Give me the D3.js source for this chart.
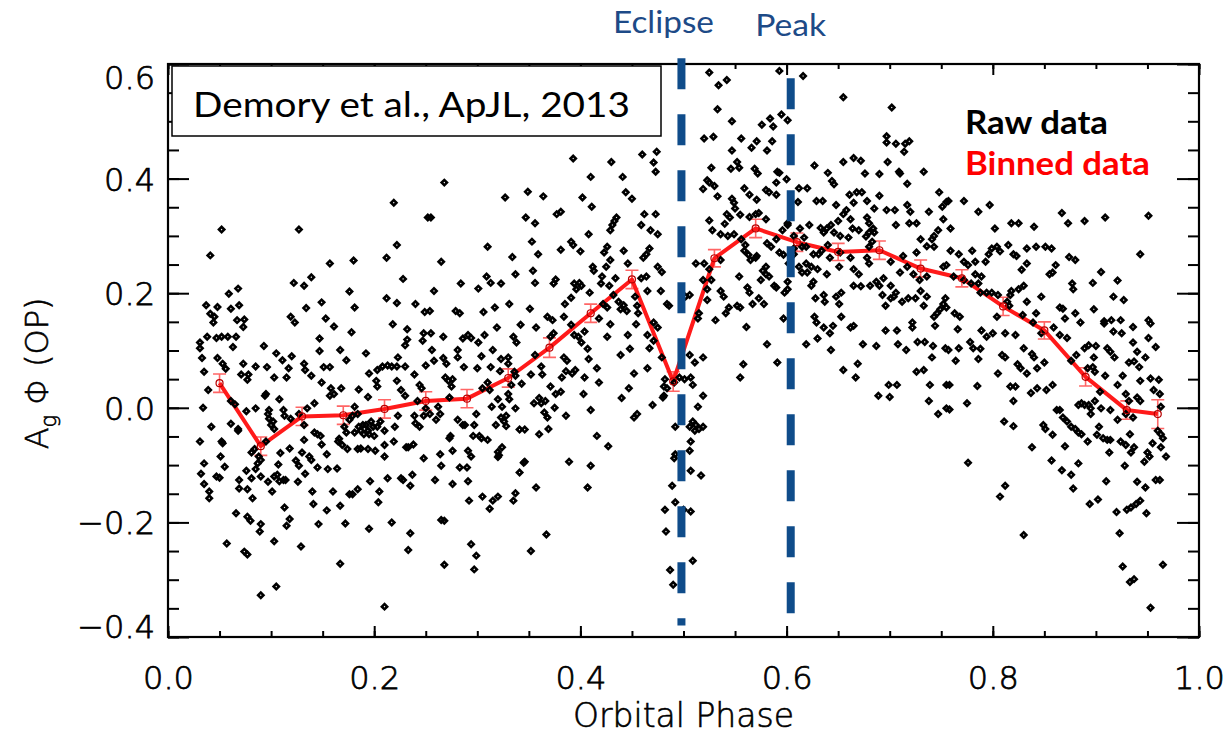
<!DOCTYPE html>
<html><head><meta charset="utf-8">
<script src="https://cdn.jsdelivr.net/npm/d3@7"></script>
<style>html,body{margin:0;padding:0;background:#fff}</style>
</head><body>
<svg id="chart" width="1228" height="738"></svg>
<script>
// Axis ticks
const xTicks = [0, 0.2, 0.4, 0.6, 0.8, 1.0];
const yTicks = [-0.4, -0.2, 0.0, 0.2, 0.4, 0.6];

// Binned phase curve with 1-sigma errors
const binPhase = [0.05,0.09,0.13,0.17,0.21,0.25,0.29,0.33,0.37,0.41,0.45,0.49,0.53,0.57,0.61,0.65,0.69,0.73,0.77,0.81,0.85,0.89,0.93,0.96];
const binAg    = [0.043,-0.067,-0.015,-0.013,-0.002,0.012,0.016,0.052,0.105,0.165,0.224,0.046,0.261,0.313,0.289,0.272,0.275,0.243,0.226,0.177,0.135,0.054,-0.004,-0.011];
const binErr   = [0.016,0.016,0.016,0.016,0.016,0.016,0.016,0.016,0.017,0.016,0.016,0.017,0.015,0.016,0.016,0.015,0.016,0.015,0.015,0.016,0.015,0.016,0.016,0.025];

// Reference phases (secondary eclipse, brightness peak) and the span of each marker line
const eclipsePhase = 0.498, eclipseSpan = [0.61, -0.38];
const peakPhase = 0.604, peakSpan = [0.575, -0.36];

// Raw measurements: [orbital phase, Ag*Phi]
const rawPoints = [
[0.052,0.311],[0.041,0.266],[0.127,0.311],[0.219,0.358],[0.252,0.332],[0.222,0.284],[0.212,0.262],[0.157,0.252],[0.180,0.257],[0.228,0.225],[0.139,0.228],[0.122,0.218],[0.132,0.213],[0.068,0.208],[0.059,0.199],[0.176,0.203],[0.212,0.191],[0.222,0.183],[0.240,0.181],[0.249,0.167],[0.037,0.179],[0.048,0.176],[0.061,0.173],[0.069,0.179],[0.041,0.164],[0.045,0.159],[0.044,0.149],[0.067,0.153],[0.074,0.154],[0.073,0.141],[0.134,0.174],[0.149,0.184],[0.181,0.175],[0.119,0.159],[0.123,0.149],[0.153,0.156],[0.161,0.142],[0.218,0.146],[0.232,0.137],[0.178,0.132],[0.147,0.121],[0.038,0.124],[0.047,0.122],[0.052,0.124],[0.058,0.124],[0.066,0.124],[0.063,0.106],[0.031,0.114],[0.031,0.104],[0.033,0.087],[0.048,0.087],[0.053,0.077],[0.056,0.068],[0.035,0.063],[0.039,0.031],[0.034,0.000],[0.042,-0.033],[0.031,-0.059],[0.052,-0.059],[0.053,-0.062],[0.051,-0.085],[0.035,-0.097],[0.055,-0.103],[0.032,-0.115],[0.035,-0.133],[0.040,-0.146],[0.040,-0.158],[0.047,-0.120],[0.050,-0.122],[0.057,-0.237],[0.093,0.108],[0.073,0.077],[0.071,0.058],[0.078,0.058],[0.077,0.049],[0.076,-0.006],[0.085,-0.001],[0.096,0.071],[0.085,0.072],[0.105,0.095],[0.111,0.083],[0.120,0.090],[0.103,0.053],[0.117,0.069],[0.115,0.053],[0.132,0.077],[0.133,0.066],[0.139,0.056],[0.147,0.099],[0.151,0.071],[0.157,0.071],[0.149,0.044],[0.158,0.034],[0.157,0.021],[0.161,0.024],[0.168,0.034],[0.167,0.101],[0.173,0.083],[0.192,0.095],[0.195,0.060],[0.185,0.032],[0.194,0.019],[0.202,0.047],[0.203,0.037],[0.203,0.066],[0.208,0.072],[0.213,0.074],[0.217,0.072],[0.222,0.072],[0.223,0.088],[0.230,0.072],[0.222,0.047],[0.226,0.031],[0.230,0.021],[0.232,0.119],[0.230,0.109],[0.239,0.058],[0.247,0.117],[0.248,0.130],[0.250,0.074],[0.244,0.040],[0.246,0.034],[0.242,0.012],[0.250,-0.001],[0.248,-0.014],[0.061,0.012],[0.065,0.006],[0.061,-0.028],[0.068,-0.037],[0.068,-0.040],[0.095,0.024],[0.094,0.021],[0.097,-0.011],[0.098,-0.019],[0.100,-0.030],[0.103,-0.037],[0.108,0.015],[0.112,-0.004],[0.113,-0.014],[0.119,-0.019],[0.132,-0.030],[0.135,-0.001],[0.142,0.008],[0.127,-0.011],[0.142,-0.043],[0.145,-0.046],[0.148,-0.049],[0.149,-0.064],[0.132,-0.056],[0.130,-0.078],[0.118,-0.071],[0.109,-0.079],[0.107,-0.099],[0.112,-0.126],[0.113,-0.174],[0.118,-0.194],[0.115,-0.206],[0.103,-0.233],[0.105,-0.312],[0.090,-0.327],[0.090,-0.203],[0.089,-0.216],[0.082,-0.158],[0.081,-0.123],[0.076,-0.110],[0.077,-0.142],[0.069,-0.126],[0.069,-0.141],[0.066,-0.184],[0.077,-0.190],[0.080,-0.197],[0.074,-0.251],[0.077,-0.256],[0.084,-0.072],[0.081,-0.078],[0.087,-0.097],[0.090,-0.091],[0.085,-0.107],[0.090,-0.120],[0.088,-0.085],[0.095,-0.059],[0.097,-0.129],[0.101,-0.146],[0.103,-0.120],[0.106,-0.117],[0.108,-0.128],[0.114,-0.126],[0.124,-0.092],[0.127,-0.101],[0.126,-0.129],[0.129,-0.242],[0.133,-0.115],[0.137,-0.085],[0.139,-0.091],[0.140,-0.146],[0.141,-0.168],[0.146,-0.203],[0.145,-0.104],[0.155,-0.107],[0.154,-0.081],[0.154,-0.179],[0.160,-0.146],[0.164,-0.106],[0.167,-0.171],[0.167,-0.272],[0.172,-0.202],[0.165,-0.059],[0.166,-0.054],[0.169,-0.065],[0.174,-0.072],[0.171,-0.033],[0.173,-0.043],[0.176,-0.021],[0.179,-0.014],[0.181,0.002],[0.184,-0.011],[0.185,-0.033],[0.187,-0.040],[0.190,-0.046],[0.192,-0.030],[0.194,-0.040],[0.195,-0.046],[0.197,-0.024],[0.199,-0.033],[0.203,-0.033],[0.206,-0.024],[0.210,-0.040],[0.210,-0.065],[0.184,-0.072],[0.187,-0.071],[0.194,-0.072],[0.201,-0.075],[0.196,-0.128],[0.205,-0.146],[0.204,-0.165],[0.176,-0.151],[0.179,-0.151],[0.184,-0.142],[0.195,-0.211],[0.210,-0.085],[0.213,-0.123],[0.217,-0.200],[0.210,-0.347],[0.219,-0.059],[0.220,-0.033],[0.223,-0.014],[0.226,-0.123],[0.228,-0.126],[0.231,-0.069],[0.233,-0.069],[0.235,-0.136],[0.238,-0.064],[0.237,-0.117],[0.235,-0.219],[0.233,-0.248],[0.239,-0.014],[0.240,-0.027],[0.244,-0.033],[0.248,-0.088],[0.189,-0.030],[0.181,-0.043],[0.200,-0.049],[0.098,-0.004],[0.102,-0.024],
[0.268,0.393],[0.255,0.332],[0.265,0.255],[0.258,0.204],[0.254,0.169],[0.255,0.130],[0.267,0.124],[0.256,0.101],[0.258,0.082],[0.267,0.087],[0.270,0.077],[0.269,0.053],[0.272,0.047],[0.275,0.037],[0.276,0.050],[0.273,0.018],[0.262,0.002],[0.264,-0.011],[0.260,-0.021],[0.254,-0.011],[0.281,-0.021],[0.274,-0.049],[0.273,-0.053],[0.264,-0.081],[0.265,-0.101],[0.276,-0.075],[0.259,-0.126],[0.276,-0.133],[0.265,-0.196],[0.268,-0.197],[0.268,-0.274],[0.281,0.101],[0.279,0.169],[0.283,0.165],[0.284,0.217],[0.286,0.121],[0.287,0.071],[0.281,0.088],[0.286,-0.030],[0.288,-0.030],[0.283,-0.104],[0.290,-0.104],[0.291,-0.075],[0.294,-0.085],[0.291,-0.128],[0.292,-0.162],[0.294,-0.238],[0.299,-0.258],[0.297,-0.282],[0.291,0.127],[0.294,0.122],[0.301,0.114],[0.300,0.069],[0.304,0.090],[0.307,0.127],[0.306,0.167],[0.310,0.281],[0.309,0.229],[0.313,0.218],[0.323,0.217],[0.301,0.208],[0.317,0.175],[0.319,0.140],[0.315,0.101],[0.313,0.071],[0.322,0.064],[0.323,0.085],[0.310,0.044],[0.305,0.034],[0.312,0.031],[0.299,-0.011],[0.297,-0.030],[0.296,-0.049],[0.302,-0.049],[0.304,-0.053],[0.310,-0.056],[0.314,0.002],[0.320,0.015],[0.324,0.002],[0.323,-0.017],[0.326,-0.024],[0.318,-0.030],[0.320,-0.077],[0.321,-0.083],[0.320,-0.086],[0.324,-0.069],[0.320,-0.155],[0.315,-0.162],[0.312,-0.176],[0.305,-0.155],[0.327,0.367],[0.334,0.263],[0.331,0.181],[0.335,0.124],[0.338,0.114],[0.330,0.088],[0.330,0.077],[0.336,0.063],[0.337,0.056],[0.343,0.042],[0.333,0.040],[0.330,0.024],[0.331,0.015],[0.328,-0.014],[0.328,-0.032],[0.337,-0.001],[0.341,-0.038],[0.346,-0.038],[0.337,-0.149],[0.335,-0.162],[0.341,-0.113],[0.345,-0.096],[0.346,-0.094],[0.337,0.233],[0.349,0.377],[0.347,0.332],[0.356,0.322],[0.353,0.290],[0.359,0.268],[0.354,0.239],[0.356,0.218],[0.351,0.173],[0.342,0.145],[0.357,0.140],[0.356,0.092],[0.352,0.058],[0.362,0.072],[0.363,0.058],[0.360,0.017],[0.355,0.008],[0.362,0.008],[0.366,0.012],[0.365,-0.008],[0.364,0.369],[0.357,-0.139],[0.352,-0.250],[0.367,-0.221],[0.360,-0.046],[0.369,-0.037],[0.368,-0.017],[0.368,0.159],[0.374,0.217],[0.376,0.224],[0.377,0.338],[0.381,0.342],[0.381,0.276],[0.373,0.153],[0.374,0.130],[0.371,0.124],[0.371,0.037],[0.375,0.000],[0.376,0.024],[0.381,0.028],[0.382,0.053],[0.384,0.159],[0.384,0.088],[0.387,0.082],[0.386,0.064],[0.386,-0.014],[0.389,-0.094],[0.385,0.181],[0.391,0.290],[0.393,0.435],[0.393,0.284],[0.400,0.273],[0.391,0.192],[0.394,0.217],[0.396,0.207],[0.399,0.218],[0.401,0.213],[0.391,0.145],[0.394,0.127],[0.398,0.124],[0.401,0.114],[0.404,0.133],[0.395,0.066],[0.392,0.060],[0.404,0.053],[0.403,0.024],[0.408,0.085],[0.416,0.069],[0.407,0.103],[0.402,0.367],[0.410,0.403],[0.411,0.351],[0.408,0.303],[0.412,0.246],[0.413,0.239],[0.409,0.201],[0.410,-0.004],[0.416,-0.049],[0.427,-0.067],[0.410,-0.101],[0.407,-0.139],[0.418,0.044],[0.418,0.156],[0.420,0.217],[0.421,0.229],[0.423,0.271],[0.426,0.281],[0.429,0.310],[0.431,0.319],[0.433,0.326],[0.435,0.332],[0.430,0.429],[0.441,0.403],[0.444,0.376],[0.450,0.365],[0.442,0.274],[0.446,0.252],[0.429,0.258],[0.425,0.246],[0.428,0.213],[0.432,0.197],[0.426,0.175],[0.422,0.181],[0.434,0.226],[0.437,0.185],[0.439,0.172],[0.442,0.179],[0.445,0.169],[0.429,0.146],[0.426,0.124],[0.439,0.092],[0.446,0.127],[0.448,0.103],[0.452,0.060],[0.447,0.034],[0.440,0.017],[0.452,-0.017],[0.455,-0.011],[0.453,0.194],[0.455,0.178],[0.456,0.165],[0.454,0.146],[0.459,0.226],[0.464,0.229],[0.461,0.262],[0.464,0.268],[0.467,0.278],[0.459,0.319],[0.462,0.338],[0.468,0.310],[0.473,0.338],[0.475,0.303],[0.460,0.442],[0.471,0.428],[0.474,0.447],[0.473,0.412],[0.465,0.204],[0.475,0.246],[0.479,0.237],[0.478,0.204],[0.484,0.181],[0.486,0.178],[0.465,0.127],[0.467,0.104],[0.471,0.149],[0.475,0.140],[0.479,0.088],[0.471,0.117],[0.465,0.069],[0.470,0.005],[0.482,0.050],[0.481,0.037],[0.481,0.021],[0.484,0.034],[0.480,0.018],[0.491,0.044],[0.496,0.053],[0.501,0.050],[0.492,-0.033],[0.491,-0.088],[0.489,-0.136],[0.492,-0.081],[0.482,-0.178],[0.483,-0.216],[0.487,-0.283],[0.490,-0.309],[0.492,-0.165],[0.500,-0.178],[0.502,0.194],
[0.525,0.585],[0.534,0.563],[0.542,0.572],[0.593,0.588],[0.616,0.579],[0.655,0.542],[0.702,0.524],[0.533,0.521],[0.547,0.500],[0.576,0.494],[0.584,0.505],[0.587,0.491],[0.595,0.512],[0.601,0.502],[0.520,0.470],[0.529,0.473],[0.556,0.470],[0.571,0.465],[0.566,0.454],[0.586,0.465],[0.581,0.449],[0.547,0.449],[0.552,0.429],[0.546,0.417],[0.554,0.419],[0.527,0.419],[0.569,0.417],[0.572,0.409],[0.591,0.412],[0.593,0.410],[0.600,0.399],[0.523,0.397],[0.525,0.393],[0.519,0.382],[0.530,0.387],[0.559,0.383],[0.533,0.369],[0.564,0.372],[0.571,0.363],[0.580,0.380],[0.583,0.376],[0.590,0.372],[0.547,0.365],[0.549,0.358],[0.550,0.348],[0.542,0.338],[0.545,0.332],[0.555,0.337],[0.564,0.333],[0.570,0.338],[0.573,0.340],[0.580,0.329],[0.525,0.327],[0.528,0.310],[0.536,0.303],[0.543,0.300],[0.549,0.303],[0.540,0.321],[0.556,0.294],[0.560,0.284],[0.559,0.274],[0.563,0.267],[0.565,0.258],[0.571,0.265],[0.581,0.287],[0.585,0.281],[0.590,0.294],[0.593,0.271],[0.597,0.267],[0.601,0.319],[0.596,0.310],[0.607,0.300],[0.612,0.383],[0.620,0.383],[0.611,0.359],[0.622,0.319],[0.613,0.313],[0.617,0.297],[0.615,0.281],[0.619,0.281],[0.627,0.423],[0.640,0.410],[0.644,0.396],[0.646,0.390],[0.655,0.429],[0.665,0.436],[0.672,0.431],[0.676,0.409],[0.690,0.408],[0.698,0.429],[0.709,0.412],[0.710,0.409],[0.733,0.412],[0.697,0.474],[0.697,0.463],[0.706,0.461],[0.715,0.461],[0.719,0.465],[0.714,0.447],[0.717,0.391],[0.748,0.376],[0.755,0.359],[0.629,0.361],[0.635,0.361],[0.648,0.354],[0.661,0.372],[0.668,0.376],[0.673,0.376],[0.665,0.358],[0.678,0.361],[0.690,0.370],[0.685,0.348],[0.697,0.345],[0.705,0.345],[0.717,0.354],[0.720,0.342],[0.738,0.342],[0.650,0.326],[0.655,0.338],[0.658,0.345],[0.662,0.329],[0.664,0.313],[0.670,0.310],[0.678,0.332],[0.680,0.322],[0.685,0.306],[0.706,0.319],[0.719,0.322],[0.726,0.322],[0.752,0.329],[0.633,0.314],[0.639,0.313],[0.643,0.319],[0.646,0.306],[0.636,0.306],[0.640,0.284],[0.642,0.262],[0.652,0.271],[0.651,0.246],[0.662,0.262],[0.665,0.242],[0.670,0.233],[0.678,0.262],[0.680,0.281],[0.683,0.290],[0.680,0.252],[0.687,0.220],[0.690,0.213],[0.693,0.197],[0.681,0.213],[0.672,0.212],[0.665,0.213],[0.653,0.201],[0.651,0.181],[0.648,0.194],[0.636,0.197],[0.637,0.185],[0.628,0.191],[0.624,0.213],[0.626,0.220],[0.620,0.236],[0.624,0.246],[0.619,0.252],[0.615,0.236],[0.630,0.242],[0.631,0.268],[0.634,0.274],[0.607,0.268],[0.602,0.252],[0.601,0.220],[0.598,0.201],[0.601,0.207],[0.597,0.156],[0.591,0.079],[0.581,0.111],[0.590,0.210],[0.588,0.213],[0.580,0.246],[0.577,0.239],[0.583,0.229],[0.580,0.233],[0.570,0.262],[0.575,0.223],[0.562,0.210],[0.564,0.201],[0.567,0.181],[0.573,0.191],[0.578,0.181],[0.554,0.229],[0.552,0.178],[0.555,0.175],[0.561,0.141],[0.558,0.076],[0.555,0.053],[0.544,0.175],[0.541,0.165],[0.536,0.204],[0.539,0.194],[0.531,0.153],[0.527,0.223],[0.525,0.242],[0.536,0.258],[0.519,0.223],[0.523,0.188],[0.512,0.252],[0.520,0.252],[0.515,0.165],[0.514,0.156],[0.506,0.197],[0.506,0.092],[0.511,0.079],[0.519,0.088],[0.507,0.053],[0.509,0.040],[0.519,0.021],[0.514,0.002],[0.509,-0.024],[0.506,-0.033],[0.512,-0.030],[0.515,-0.037],[0.519,-0.033],[0.511,-0.040],[0.507,-0.059],[0.506,-0.075],[0.507,-0.110],[0.517,-0.118],[0.507,-0.181],[0.509,-0.267],[0.590,0.393],[0.601,0.322],[0.607,0.278],[0.612,0.246],[0.639,0.233],[0.653,0.159],[0.662,0.140],[0.665,0.143],[0.645,0.143],[0.642,0.130],[0.636,0.140],[0.627,0.159],[0.629,0.149],[0.630,0.121],[0.619,0.111],[0.643,0.101],[0.655,0.066],[0.669,0.077],[0.667,0.053],[0.674,0.111],[0.687,0.108],[0.696,0.135],[0.707,0.135],[0.708,0.111],[0.716,0.101],[0.722,0.149],[0.722,0.140],[0.727,0.115],[0.734,0.115],[0.742,0.108],[0.741,0.088],[0.754,0.104],[0.726,0.063],[0.733,0.066],[0.739,0.040],[0.755,0.040],[0.738,0.012],[0.747,-0.011],[0.755,-0.001],[0.689,0.021],[0.699,0.040],[0.707,0.040],[0.700,0.019],[0.696,0.178],[0.701,0.191],[0.704,0.194],[0.706,0.201],[0.712,0.185],[0.718,0.191],[0.725,0.191],[0.730,0.204],[0.733,0.178],[0.736,0.194],[0.736,0.229],[0.729,0.223],[0.726,0.271],[0.723,0.233],[0.717,0.246],[0.710,0.236],[0.713,0.265],[0.701,0.255],[0.694,0.226],[0.701,0.213],[0.743,0.159],[0.746,0.165],[0.749,0.172],[0.752,0.181],[0.754,0.191],[0.744,0.143],[0.752,0.246],[0.743,0.300],[0.741,0.294],[0.736,0.282],[0.743,0.281],[0.730,0.294],[0.751,0.351],[0.747,0.310],[0.677,0.299],[0.680,0.306],[0.684,0.313],[0.652,0.300],[0.660,0.297],[0.626,0.268],[0.523,0.207],
[0.757,0.361],[0.772,0.361],[0.786,0.342],[0.797,0.354],[0.802,0.313],[0.818,0.322],[0.825,0.322],[0.840,0.316],[0.867,0.340],[0.873,0.322],[0.889,0.326],[0.909,0.332],[0.951,0.335],[0.943,0.268],[0.759,0.313],[0.759,0.274],[0.767,0.268],[0.772,0.255],[0.776,0.249],[0.780,0.274],[0.783,0.255],[0.755,0.249],[0.762,0.229],[0.772,0.223],[0.779,0.217],[0.786,0.217],[0.783,0.233],[0.789,0.229],[0.793,0.255],[0.796,0.268],[0.799,0.278],[0.804,0.281],[0.807,0.273],[0.815,0.284],[0.820,0.268],[0.823,0.265],[0.833,0.278],[0.842,0.281],[0.851,0.281],[0.857,0.278],[0.861,0.249],[0.855,0.233],[0.858,0.236],[0.833,0.252],[0.828,0.241],[0.830,0.213],[0.874,0.263],[0.880,0.258],[0.877,0.217],[0.878,0.207],[0.905,0.237],[0.897,0.218],[0.921,0.222],[0.917,0.194],[0.927,0.188],[0.788,0.201],[0.794,0.201],[0.799,0.201],[0.805,0.197],[0.817,0.197],[0.818,0.204],[0.825,0.207],[0.814,0.185],[0.816,0.178],[0.804,0.159],[0.812,0.130],[0.822,0.127],[0.833,0.185],[0.842,0.165],[0.829,0.162],[0.847,0.194],[0.839,0.149],[0.847,0.130],[0.859,0.140],[0.865,0.175],[0.868,0.173],[0.870,0.156],[0.865,0.127],[0.872,0.122],[0.880,0.165],[0.885,0.149],[0.898,0.172],[0.908,0.151],[0.908,0.147],[0.915,0.153],[0.924,0.153],[0.917,0.133],[0.925,0.130],[0.936,0.141],[0.951,0.153],[0.953,0.147],[0.951,0.122],[0.958,0.106],[0.936,0.114],[0.940,0.098],[0.937,0.081],[0.932,0.079],[0.942,0.071],[0.948,0.088],[0.943,0.047],[0.953,0.051],[0.961,0.049],[0.956,0.031],[0.962,0.024],[0.963,0.002],[0.763,0.165],[0.768,0.159],[0.766,0.137],[0.755,0.175],[0.767,0.104],[0.757,0.101],[0.764,0.082],[0.778,0.115],[0.781,0.104],[0.788,0.103],[0.789,0.135],[0.794,0.124],[0.800,0.130],[0.786,0.085],[0.805,0.060],[0.809,0.092],[0.812,0.088],[0.817,0.037],[0.822,0.037],[0.820,0.012],[0.824,0.076],[0.827,0.069],[0.830,0.104],[0.833,0.060],[0.838,0.094],[0.840,0.088],[0.843,0.069],[0.850,0.079],[0.837,0.026],[0.843,0.034],[0.852,0.031],[0.858,0.040],[0.758,0.040],[0.785,0.038],[0.758,-0.003],[0.775,0.008],[0.876,0.082],[0.881,0.092],[0.889,0.104],[0.893,0.109],[0.898,0.088],[0.900,0.108],[0.892,0.069],[0.897,0.071],[0.899,0.063],[0.909,0.056],[0.911,0.104],[0.914,0.098],[0.918,0.088],[0.926,0.056],[0.921,0.040],[0.929,0.024],[0.932,0.012],[0.940,0.018],[0.943,0.012],[0.904,0.028],[0.899,0.012],[0.883,0.005],[0.886,0.008],[0.889,0.005],[0.893,0.005],[0.895,-0.001],[0.905,-0.001],[0.895,-0.011],[0.914,-0.004],[0.921,-0.021],[0.929,-0.011],[0.936,-0.017],[0.868,-0.017],[0.865,-0.004],[0.862,-0.004],[0.872,-0.024],[0.849,-0.030],[0.851,-0.037],[0.858,-0.047],[0.876,-0.033],[0.880,-0.037],[0.883,-0.043],[0.886,-0.046],[0.892,-0.059],[0.901,-0.047],[0.903,-0.033],[0.907,-0.053],[0.911,-0.056],[0.914,-0.056],[0.913,-0.078],[0.924,-0.059],[0.929,-0.065],[0.937,-0.069],[0.934,-0.078],[0.928,-0.101],[0.933,-0.046],[0.950,-0.078],[0.952,-0.085],[0.947,-0.094],[0.955,-0.062],[0.960,-0.040],[0.963,-0.046],[0.965,-0.053],[0.963,-0.069],[0.968,-0.085],[0.958,-0.126],[0.962,-0.126],[0.940,-0.129],[0.948,-0.139],[0.943,-0.162],[0.939,-0.168],[0.934,-0.174],[0.930,-0.178],[0.949,-0.184],[0.920,-0.182],[0.923,-0.219],[0.926,-0.277],[0.933,-0.304],[0.937,-0.299],[0.953,-0.349],[0.965,-0.274],[0.910,-0.128],[0.902,-0.160],[0.894,-0.168],[0.878,-0.141],[0.876,-0.117],[0.883,-0.097],[0.867,-0.109],[0.857,-0.092],[0.870,-0.067],[0.838,-0.069],[0.830,-0.222],[0.812,-0.136],[0.807,-0.155],[0.811,-0.024],[0.820,-0.032],[0.776,-0.096]
];

const plot = {left: 168, right: 1199, top: 64, bottom: 637};
const x = d3.scaleLinear().domain([0, 1]).range([plot.left, plot.right]);
const y = d3.scaleLinear().domain([-0.4, 0.6]).range([plot.bottom, plot.top]);
const svg = d3.select('#chart');

const tickFont = "'DejaVu Sans', sans-serif";
const noteFont = "Lato, 'Open Sans', sans-serif";
const xMinor = d3.range(0, 1.0001, 0.05);
const yMinor = d3.range(-0.4, 0.6001, 0.05);

// Thin vector-style lettering for axis text
function axisText(sel, size) {
  sel.attr('font-family', tickFont).attr('font-size', size).attr('font-weight', 200)
    .attr('fill', '#000').attr('stroke', '#000').attr('stroke-width', 0.75);
}

// Axes: major + minor ticks on all four sides, pointing inward
function styleAxis(g) {
  g.select('.domain').remove();
  g.selectAll('.tick line').attr('stroke', '#000').attr('stroke-width', 2);
}
const fmt = d3.format('.1f');
const minus = s => s.replace('-', '\u2212');

svg.append('g').attr('transform', `translate(0,${plot.bottom})`)
  .call(d3.axisBottom(x).tickValues(xMinor).tickSize(-6).tickFormat('')).call(styleAxis);
svg.append('g').attr('transform', `translate(0,${plot.bottom})`)
  .call(d3.axisBottom(x).tickValues(xTicks).tickSize(-11).tickPadding(29).tickFormat(fmt))
  .call(styleAxis)
  .call(g => g.selectAll('text').call(axisText, 32));
svg.append('g').attr('transform', `translate(0,${plot.top})`)
  .call(d3.axisTop(x).tickValues(xMinor).tickSize(-5).tickFormat('')).call(styleAxis);
svg.append('g').attr('transform', `translate(0,${plot.top})`)
  .call(d3.axisTop(x).tickValues(xTicks).tickSize(-11).tickFormat('')).call(styleAxis);

svg.append('g').attr('transform', `translate(${plot.left},0)`)
  .call(d3.axisLeft(y).tickValues(yMinor).tickSize(-11).tickFormat('')).call(styleAxis);
svg.append('g').attr('transform', `translate(${plot.left},0)`)
  .call(d3.axisLeft(y).tickValues(yTicks).tickSize(-21).tickPadding(13).tickFormat(d => minus(fmt(d))))
  .call(styleAxis)
  .call(g => g.selectAll('text').call(axisText, 32)
    .attr('dy', d => d >= 0.6 ? '0.75em' : d <= -0.4 ? '0.0em' : '0.36em'));
svg.append('g').attr('transform', `translate(${plot.right},0)`)
  .call(d3.axisRight(y).tickValues(yMinor).tickSize(-11).tickFormat('')).call(styleAxis);
svg.append('g').attr('transform', `translate(${plot.right},0)`)
  .call(d3.axisRight(y).tickValues(yTicks).tickSize(-22).tickFormat('')).call(styleAxis);

// Plot frame
svg.append('rect')
  .attr('x', plot.left).attr('y', plot.top)
  .attr('width', plot.right - plot.left).attr('height', plot.bottom - plot.top)
  .attr('fill', 'none').attr('stroke', '#000').attr('stroke-width', 2.2);

// Axis titles
svg.append('text')
  .attr('x', (plot.left + plot.right) / 2).attr('y', 727)
  .attr('text-anchor', 'middle')
  .call(axisText, 33)
  .attr('stroke-width', 0.6)
  .text('Orbital Phase');
const yl = svg.append('text')
  .attr('transform', `translate(48,${y(0.06)}) rotate(-90)`)
  .attr('text-anchor', 'middle')
  .call(axisText, 32)
  .attr('stroke-width', 0.6);
yl.append('tspan').text('A');
yl.append('tspan').attr('font-size', 21).attr('dy', 8).text('g');
yl.append('tspan').attr('dy', -8).text(' \u03A6 (OP)');

// Binned curve: error bars and connecting line
const bins = binPhase.map((p, i) => ({p, v: binAg[i], e: binErr[i]}));
const errG = svg.append('g').attr('stroke', 'rgba(255,50,50,0.75)').attr('stroke-width', 1.6).attr('fill', 'none');
errG.selectAll('path').data(bins).join('path')
  .attr('d', d => {
    const cx = x(d.p), y0 = y(d.v - d.e), y1 = y(d.v + d.e), w = 6.5;
    return `M${cx},${y0}V${y1}M${cx - w},${y0}H${cx + w}M${cx - w},${y1}H${cx + w}`;
  });
svg.append('path').datum(bins)
  .attr('fill', 'none').attr('stroke', '#ff1a1a').attr('stroke-width', 4).attr('stroke-linejoin', 'round')
  .attr('d', d3.line().x(d => x(d.p)).y(d => y(d.v)));

// Raw data as heavy open diamonds
const diamond = d3.symbol().type(d3.symbolSquare).size(14);
svg.append('g').selectAll('path').data(rawPoints).join('path')
  .attr('transform', d => `translate(${x(d[0])},${y(d[1])}) rotate(45)`)
  .attr('d', diamond)
  .attr('fill', 'none').attr('stroke', '#000').attr('stroke-width', 2.6);

// Bin centre markers
svg.append('g').selectAll('circle').data(bins).join('circle')
  .attr('cx', d => x(d.p)).attr('cy', d => y(d.v)).attr('r', 3.5)
  .attr('fill', 'none').attr('stroke', '#b80000').attr('stroke-width', 1.2);

// Eclipse and peak markers
const blue = '#0f4c8a';
[[eclipsePhase, eclipseSpan], [peakPhase, peakSpan]].forEach(([ph, span]) => {
  svg.append('line')
    .attr('x1', x(ph)).attr('x2', x(ph)).attr('y1', y(span[0])).attr('y2', y(span[1]))
    .attr('stroke', blue).attr('stroke-width', 8).attr('stroke-dasharray', '31 25');
});
svg.append('text').attr('x', x(eclipsePhase) - 18).attr('y', 33).attr('text-anchor', 'middle')
  .attr('font-family', noteFont).attr('font-size', 31).attr('fill', '#1d4a87')
  .attr('textLength', 101).attr('lengthAdjust', 'spacingAndGlyphs').text('Eclipse');
svg.append('text').attr('x', x(peakPhase)).attr('y', 36).attr('text-anchor', 'middle')
  .attr('font-family', noteFont).attr('font-size', 31).attr('fill', '#1d4a87')
  .attr('textLength', 71).attr('lengthAdjust', 'spacingAndGlyphs').text('Peak');

// Citation box
svg.append('rect').attr('x', 172).attr('y', 66).attr('width', 489).attr('height', 70)
  .attr('fill', '#fff').attr('stroke', '#000').attr('stroke-width', 1.5);
svg.append('text').attr('x', 193).attr('y', 117)
  .attr('font-family', noteFont).attr('font-size', 35)
  .attr('textLength', 437).attr('lengthAdjust', 'spacingAndGlyphs')
  .text('Demory et al., ApJL, 2013');

// Legend
svg.append('text').attr('x', 965).attr('y', 134)
  .attr('font-family', noteFont).attr('font-size', 32).attr('font-weight', 700).attr('fill', '#000')
  .attr('textLength', 143).attr('lengthAdjust', 'spacingAndGlyphs')
  .text('Raw data');
svg.append('text').attr('x', 965).attr('y', 175)
  .attr('font-family', noteFont).attr('font-size', 32).attr('font-weight', 700).attr('fill', '#ff0000')
  .attr('textLength', 185).attr('lengthAdjust', 'spacingAndGlyphs')
  .text('Binned data');
</script>
</body></html>
